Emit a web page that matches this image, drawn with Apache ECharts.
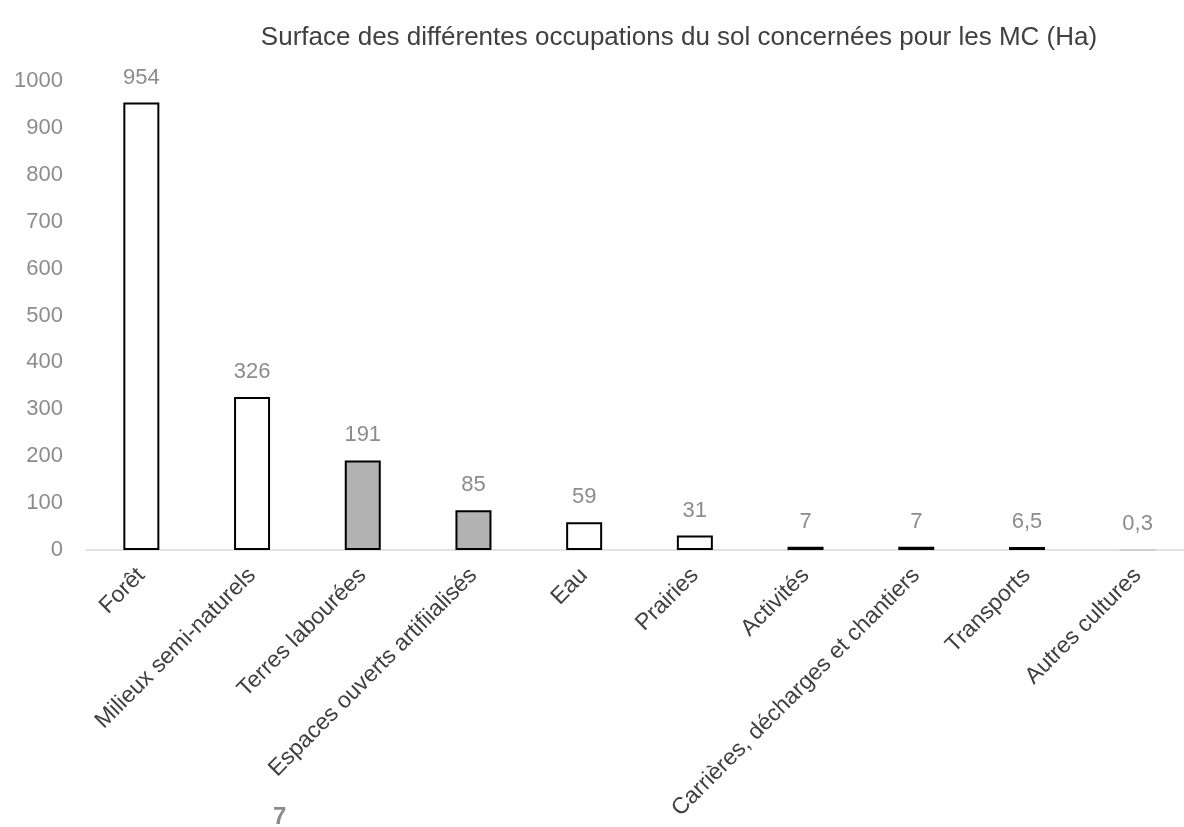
<!DOCTYPE html>
<html><head><meta charset="utf-8">
<script src="https://cdn.jsdelivr.net/npm/echarts@6/dist/echarts.min.js"></script>
<style>html,body{margin:0;padding:0;background:#fff}#c{width:1184px;height:827px}</style>
</head><body><div id="c"></div>
<script>
const categories = ["Forêt","Milieux semi-naturels","Terres labourées","Espaces ouverts artifiialisés","Eau","Prairies","Activités","Carrières, décharges et chantiers","Transports","Autres cultures"];
const values = [954, 326, 191, 85, 59, 31, 7, 7, 6.5, 0.3];
const fills = ["#ffffff","#ffffff","#b3b3b3","#b3b3b3","#ffffff","#ffffff","#000000","#000000","#000000","#d0d0d0"];
const borders = ["#000000","#000000","#000000","#000000","#000000","#000000","#000000","#000000","#000000","#d0d0d0"];
const yTicks = [0, 100, 200, 300, 400, 500, 600, 700, 800, 900, 1000];

const chart = echarts.init(document.getElementById('c'));
chart.setOption({
  backgroundColor: '#fff',
  animation: false,
  title: {
    text: 'Surface des différentes occupations du sol concernées pour les MC (Ha)',
    left: 674, top: 20, textAlign: 'center',
    textStyle: {fontFamily: 'Liberation Sans, Arial', fontSize: 26, fontWeight: 'normal', color: '#404040'}
  },
  grid: {left: 86, width: 1107, top: 81, bottom: 277, outerBoundsMode: 'none', containLabel: false},
  xAxis: {
    type: 'category', data: categories,
    axisLine: {lineStyle: {color: '#d9d9d9', width: 1.5}},
    axisTick: {show: false},
    axisLabel: {rotate: 45, interval: 0, margin: 22, color: '#404040', fontSize: 23, fontFamily: 'Liberation Sans, Arial'}
  },
  yAxis: {
    type: 'value', min: yTicks[0], max: yTicks[yTicks.length-1], interval: 100,
    splitLine: {show: false}, axisLine: {show: false}, axisTick: {show: false},
    axisLabel: {color: '#8c8c8c', fontSize: 22, margin: 23, fontFamily: 'Liberation Sans, Arial', formatter: v => String(v)}
  },
  series: [{
    type: 'bar', barWidth: 36,
    data: values.map((v, i) => ({value: v, itemStyle: {color: fills[i], borderColor: borders[i], borderWidth: 2}})),
    label: {
      show: true, position: 'top', distance: 14, color: '#8c8c8c', fontSize: 22, fontFamily: 'Liberation Sans, Arial',
      formatter: p => String(p.value).replace('.', ',')
    }
  }],
  graphic: [{
    type: 'text', left: 273, top: 805,
    style: {text: '7', fill: '#8c8c8c', font: 'bold 24px Liberation Sans, Arial'}
  }]
});
</script></body></html>
